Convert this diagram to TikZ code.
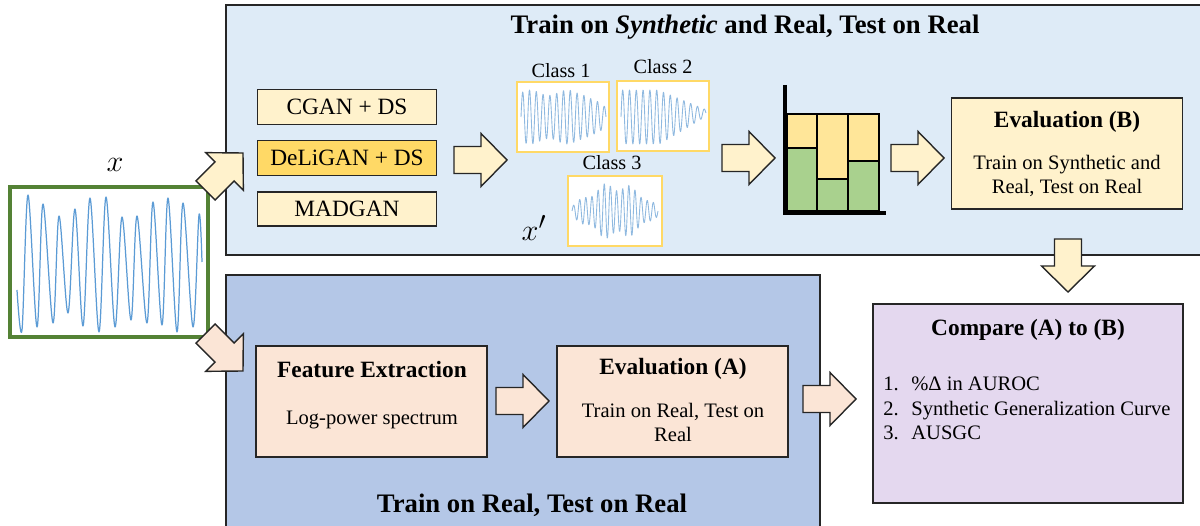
\documentclass[tikz,border=0pt]{standalone}
\usepackage{fontspec}
\setmainfont{Liberation Serif}
\usetikzlibrary{calc}

\definecolor{topbg}{HTML}{DEEBF7}
\definecolor{botbg}{HTML}{B4C7E7}
\definecolor{cream}{HTML}{FFF2CC}
\definecolor{gold}{HTML}{FFD966}
\definecolor{baryel}{HTML}{FFE699}
\definecolor{bargrn}{HTML}{A9D18E}
\definecolor{peach}{HTML}{FBE5D6}
\definecolor{lav}{HTML}{E4D8EF}
\definecolor{sig}{HTML}{5B9BD5}
\definecolor{sigl}{HTML}{8FB9E0}
\definecolor{frame}{HTML}{548235}
\definecolor{edge}{HTML}{262626}

\def\u{0.02cm}

% block arrow: fill colour, tip point, direction angle
\newcommand\blockarrow[3]{%
  \draw[blk, fill=#1, shift={#2}, rotate=#3]
    (0,0) -- (-26,26.5) -- (-26,13.5) -- (-53,13.5) -- (-53,-13.5)
    -- (-26,-13.5) -- (-26,-26.5) -- cycle;}

\begin{document}
\begin{tikzpicture}[x={(0.02cm,0)}, y={(0,-0.02cm)},
  region/.style={draw=edge, line width=0.8pt},
  gbox/.style={draw=edge, line width=0.8pt, fill=cream, inner sep=0pt,
    font=\fontsize{13.3}{15}\selectfont},
  pbox/.style={draw=edge, line width=0.8pt, inner sep=0pt},
  cbox/.style={draw=gold, line width=1.2pt, fill=white, inner sep=0pt},
  blk/.style={draw=edge, line width=0.8pt, line join=miter},
  body/.style={inner sep=0pt, font=\fontsize{11.7}{13}\selectfont},
  head/.style={inner sep=0pt, font=\fontsize{13.3}{15}\selectfont\bfseries},
  cls/.style={inner sep=0pt, font=\fontsize{11.5}{13}\selectfont},
  mlab/.style={inner sep=0pt, font=\fontsize{19}{22}\selectfont},
  wave/.style={sig, line width=0.7pt, line join=round},
  cwave/.style={sigl, line width=0.5pt, line join=round},
  bar/.style={draw=black, line width=0.9pt}]

\useasboundingbox (0,0) rectangle (1200,526);
\clip (0,0) rectangle (1200,526);

% ---------- regions ----------
\draw[region, fill=topbg] (226,5) rectangle (1215,255);
\draw[region, fill=botbg] (226,275) rectangle (820,545);

\node[head, font=\fontsize{15.2}{17}\selectfont\bfseries] (toptitle) at (745,27)
  {Train on \textit{Synthetic} and Real, Test on Real};
\node[head, font=\fontsize{15.2}{17}\selectfont\bfseries] (bottitle) at (532,505)
  {Train on Real, Test on Real};

% ---------- input signal ----------
\node[draw=frame, line width=2pt, fill=white, minimum width=198*\u,
  minimum height=150*\u, inner sep=0pt] (sigbox) at (109,262) {};
\node[mlab] (xlab) at (115,165) {$x$};
\draw[wave] plot[smooth, tension=0.55] coordinates {
  (17,290) (22,330) (28,195) (37,327) (43,204) (53,323) (59,216) (68,313)
  (75,209) (83,326) (90,198) (99,332) (106,197) (115,327) (122,217)
  (131,320) (137,216) (147,323) (153,202) (162,325) (168,198) (177,332)
  (183,203) (193,327) (199,215) (202,262)};

% ---------- generators ----------
\node[gbox, minimum width=179*\u, minimum height=35*\u] (cgan) at (347,107) {CGAN + DS};
\node[gbox, fill=gold, minimum width=179*\u, minimum height=35*\u] (deligan) at (347,158) {DeLiGAN + DS};
\node[gbox, minimum width=179*\u, minimum height=34*\u] (madgan) at (347,209) {MADGAN};

% ---------- synthetic classes ----------
\node[cbox, minimum width=92*\u, minimum height=70*\u] (c1) at (563,117) {};
\node[cbox, minimum width=92*\u, minimum height=70*\u] (c2) at (663,116) {};
\node[cbox, minimum width=94*\u, minimum height=70*\u] (c3) at (615,211) {};
\node[cls] (c1lab) at (561,71) {Class 1};
\node[cls] (c2lab) at (663,67) {Class 2};
\node[cls] (c3lab) at (612,163) {Class 3};
\node[mlab] (xplab) at (534,228) {$x'$};

\draw[cwave] plot[domain=0:1, samples=260]
  ({521+85*\x}, {117-27*min(1,1-2.6*(\x-0.75))*(0.9+0.1*sin(360*2.3*\x))*sin(360*12.5*\x)});
\draw[cwave] plot[domain=0:1, samples=260]
  ({621+85*\x}, {117-8*max(0,\x-0.5)-27*min(1,1-1.6*(\x-0.45))*sin(360*12.5*\x)});
\draw[cwave] plot[domain=0:1, samples=260]
  ({572+86*\x}, {211-(5+24*sin(180*\x))*(0.85+0.15*sin(360*3.3*\x))*sin(360*14*\x)});

% ---------- bar chart ----------
\draw[bar, fill=baryel] (787,114) rectangle (817,148);
\draw[bar, fill=bargrn] (787,148) rectangle (817,211);
\draw[bar, fill=baryel] (817,114) rectangle (848,179);
\draw[bar, fill=bargrn] (817,179) rectangle (848,211);
\draw[bar, fill=baryel] (848,114) rectangle (879,161);
\draw[bar, fill=bargrn] (848,161) rectangle (879,211);
\coordinate (axtop) at (785,85);
\coordinate (axorg) at (785,213);
\coordinate (axend) at (886,213);
\draw[line width=2.3pt] (axtop) -- (axorg) -- (axend);

% ---------- evaluation (B) ----------
\node[pbox, fill=cream, minimum width=231*\u, minimum height=111*\u] (evb) at (1067,153.5) {};
\node[head] (evbT) at (1067,122) {Evaluation (B)};
\node[body] (evb1) at (1067,165) {Train on Synthetic and};
\node[body] (evb2) at (1067,188) {Real, Test on Real};

% ---------- real pipeline ----------
\node[pbox, fill=peach, minimum width=231*\u, minimum height=111*\u] (fe) at (371.5,401.5) {};
\node[head] (feT) at (372,370) {Feature Extraction};
\node[body] (fe1) at (372,420) {Log-power spectrum};

\node[pbox, fill=peach, minimum width=231*\u, minimum height=111*\u] (eva) at (672.5,401.5) {};
\node[head] (evaT) at (673,369) {Evaluation (A)};
\node[body] (eva1) at (673,412) {Train on Real, Test on};
\node[body] (eva2) at (673,434) {Real};

% ---------- comparison ----------
\node[pbox, fill=lav, minimum width=310*\u, minimum height=199*\u] (cmp) at (1028,403.5) {};
\node[head] (cmpT) at (1028,330) {Compare (A) to (B)};
\node[body, anchor=base west] (n1) at (883,391) {1.};
\node[body, anchor=base west] (i1) at (911,391) {\%Δ in AUROC};
\node[body, anchor=base west] (n2) at (883,416) {2.};
\node[body, anchor=base west] (i2) at (911,416) {Synthetic Generalization Curve};
\node[body, anchor=base west] (n3) at (883,440) {3.};
\node[body, anchor=base west] (i3) at (911,440) {AUSGC};

% ---------- block arrows ----------
\blockarrow{cream}{(243,153)}{45}
\blockarrow{peach}{(243,371)}{-45}
\blockarrow{cream}{(507,160)}{0}
\blockarrow{cream}{(775,158)}{0}
\blockarrow{cream}{(944,158)}{0}
\blockarrow{cream}{(1068,292)}{-90}
\blockarrow{peach}{(549,401)}{0}
\blockarrow{peach}{(856,399)}{0}

\end{tikzpicture}
\end{document}
